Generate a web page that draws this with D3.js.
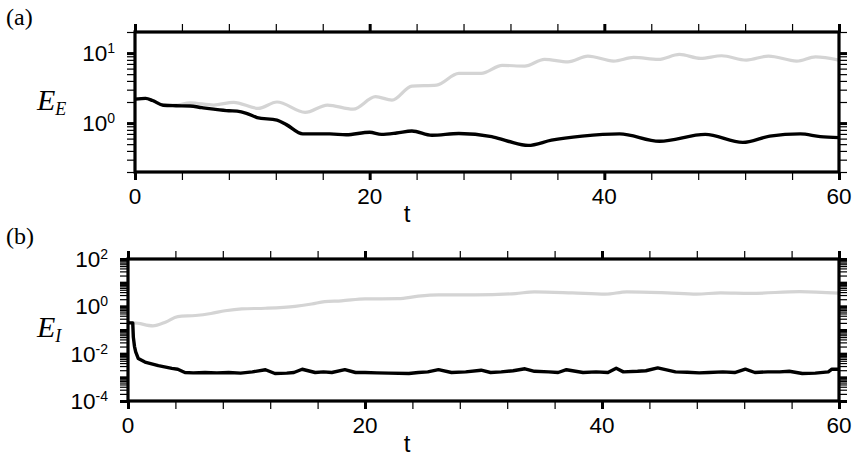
<!DOCTYPE html>
<html><head><meta charset="utf-8">
<script src="https://cdn.jsdelivr.net/npm/d3@7"></script>
<style>body{margin:0;background:#fff}</style>
</head><body>
<svg id="c" width="854" height="457"></svg>
<script>
// ---- Data ----
const xTickLabels = [0, 20, 40, 60];
const topYLabels = [1, 10];
const botYLabels = [1e-4, 1e-2, 1, 1e2];

// Panel (a): E_E
const tA_black = [0,0.9,1.5,2.4,3.5,4.7,5.7,6.7,8.0,8.7,9.5,10.4,12.1,12.9,14.3,15.5,16.6,18.0,20.0,21.0,22.3,23.6,25.3,27.6,30.4,31.8,33.5,35.5,38.1,41.3,44.7,48.6,51.8,54.1,56.7,58.4,60];
const eA_black = [2.2,2.25,2.1,1.8,1.77,1.75,1.66,1.58,1.5,1.48,1.38,1.2,1.1,0.95,0.70,0.70,0.70,0.68,0.74,0.69,0.72,0.77,0.67,0.71,0.64,0.55,0.48,0.57,0.65,0.70,0.55,0.69,0.53,0.65,0.70,0.64,0.62];
const tA_gray = [0,0.9,1.5,2.4,3.4,4.7,6.7,8.4,10.5,12.1,14.5,16.4,18.6,20.5,21.9,23.6,25.7,27.6,29.5,31.3,33.2,34.9,36.9,38.6,40.8,42.5,44.6,46.4,48.2,50.0,52.1,54.0,56.4,58.0,60];
const eA_gray = [2.2,2.25,2.1,1.82,1.8,1.95,1.81,1.98,1.62,2.0,1.42,1.81,1.58,2.38,2.13,3.38,3.49,5.13,5.13,6.67,6.5,8.13,7.5,9.06,7.69,8.68,8.13,9.57,8.4,9.15,7.94,9.06,7.69,8.85,7.94];

// Panel (b): E_I
const tB_gray = [0,0.5,2.1,3.2,4.2,5.7,7.0,8.2,9.6,11.6,14.1,15.5,16.6,18.0,20.0,22.8,24.5,26.2,29.3,32.7,34.3,37.5,40.3,42.1,45.5,48.0,50.0,52.5,56.7,60];
const eB_gray = [0.2,0.2,0.15,0.22,0.37,0.41,0.5,0.65,0.78,0.83,1.0,1.25,1.58,1.7,2.07,2.1,2.7,3.05,3.05,3.47,4.1,3.7,3.27,4.1,3.7,3.27,3.7,3.5,4.2,3.6];
const tB_black = [0,0.4,0.45,0.55,0.65,0.87,1.43,2.56,3.7,4.2,4.8,5.5,6.5,7.5,8.5,9.5,10.5,11.6,12.4,13.4,14.0,14.7,15.8,16.5,17.2,18.3,19.2,20.0,21.0,22.0,23.7,24.5,25.3,26.2,27.3,28.5,29.8,30.6,31.5,32.5,33.5,34.3,35.5,36.3,37.0,38.4,39.5,40.5,41.2,41.8,43.0,43.7,44.7,46.2,47.2,48.2,49.0,50.2,51.2,52.1,52.9,54.0,55.0,55.8,56.9,58.0,59.1,59.4,60];
const eB_black = [0.2,0.2,0.05,0.02,0.012,0.0062,0.0044,0.0031,0.0024,0.0022,0.0016,0.00155,0.0016,0.00155,0.0016,0.0015,0.0017,0.0021,0.00145,0.0015,0.0016,0.0022,0.0016,0.0017,0.0016,0.0021,0.0016,0.0016,0.00155,0.0015,0.00145,0.0016,0.0017,0.0021,0.0016,0.0017,0.002,0.0016,0.0017,0.0019,0.0023,0.0018,0.0017,0.0016,0.0021,0.0016,0.0017,0.0016,0.0024,0.0017,0.0018,0.0019,0.0025,0.0017,0.00165,0.00155,0.0016,0.0017,0.0016,0.0022,0.0016,0.0017,0.0017,0.0018,0.00145,0.0015,0.0017,0.0022,0.0022];

const svg = d3.select("#c");
const sans = "'Liberation Sans', Arial, Helvetica, sans-serif";
const serif = "'Liberation Serif', 'Times New Roman', serif";
const GRAY = "#d4d4d4";

function minorLog(lo, hi) {
  const out = [];
  for (let e = Math.floor(Math.log10(lo)); e <= Math.ceil(Math.log10(hi)); e++) {
    for (let m = 1; m <= 9; m++) {
      const v = m * Math.pow(10, e);
      if (v >= lo * 0.999 && v <= hi * 1.001) out.push(v);
    }
  }
  return out;
}

function panel(cfg) {
  const x = d3.scaleLinear().domain([0, 60]).range([cfg.left, cfg.right]);
  const y = d3.scaleLog().domain(cfg.ydom).range([cfg.bottom, cfg.top]);
  const g = svg.append("g");
  const clipId = "clip" + cfg.id;
  svg.append("clipPath").attr("id", clipId).append("rect")
    .attr("x", cfg.left).attr("y", cfg.top)
    .attr("width", cfg.right - cfg.left).attr("height", cfg.bottom - cfg.top);

  const xMinor = d3.range(0, 61, 4);
  const yMinor = minorLog(cfg.ydom[0], cfg.ydom[1]);
  const yMajor = yMinor.filter(v => Math.abs(Math.log10(v) - Math.round(Math.log10(v))) < 1e-9);

  function axisDraw(axis, transform, sw) {
    const a = g.append("g").attr("transform", transform).call(axis);
    a.select(".domain").remove();
    a.selectAll(".tick line").attr("stroke", "#000").attr("stroke-width", sw);
    a.selectAll(".tick text").remove();
  }
  const L = 8;
  axisDraw(d3.axisBottom(x).tickValues(xMinor).tickSize(L).tickFormat(""), `translate(0,${cfg.bottom})`, 1.2);
  axisDraw(d3.axisTop(x).tickValues(xMinor).tickSize(L).tickFormat(""), `translate(0,${cfg.top})`, 1.2);
  axisDraw(d3.axisBottom(x).tickValues(xTickLabels).tickSize(L).tickFormat(""), `translate(0,${cfg.bottom})`, 3);
  axisDraw(d3.axisTop(x).tickValues(xTickLabels).tickSize(L).tickFormat(""), `translate(0,${cfg.top})`, 3);
  axisDraw(d3.axisLeft(y).tickValues(yMinor).tickSize(L).tickFormat(""), `translate(${cfg.left},0)`, 1.2);
  axisDraw(d3.axisRight(y).tickValues(yMinor).tickSize(L).tickFormat(""), `translate(${cfg.right},0)`, 1.2);
  axisDraw(d3.axisLeft(y).tickValues(yMajor).tickSize(L).tickFormat(""), `translate(${cfg.left},0)`, 3);
  axisDraw(d3.axisRight(y).tickValues(yMajor).tickSize(L).tickFormat(""), `translate(${cfg.right},0)`, 3);

  // lines
  const mk = (ts, vs) => ts.map((t, i) => [t, vs[i]]);
  const line = d3.line().x(d => x(d[0])).y(d => y(d[1]));
  g.append("path").datum(mk(cfg.grayT, cfg.grayV))
    .attr("clip-path", `url(#${clipId})`)
    .attr("d", line.curve(cfg.curveGray)).attr("fill", "none")
    .attr("stroke", GRAY).attr("stroke-width", 3.2);
  g.append("path").datum(mk(cfg.blackT, cfg.blackV))
    .attr("clip-path", `url(#${clipId})`)
    .attr("d", line.curve(cfg.curveBlack)).attr("fill", "none")
    .attr("stroke", "#000").attr("stroke-width", 3.4).attr("stroke-linejoin", "round");

  // frame
  g.append("rect").attr("x", cfg.left).attr("y", cfg.top)
    .attr("width", cfg.right - cfg.left).attr("height", cfg.bottom - cfg.top)
    .attr("fill", "none").attr("stroke", "#000").attr("stroke-width", 3.2);

  // x labels
  g.selectAll(".xl").data(xTickLabels).enter().append("text")
    .attr("x", d => x(d)).attr("y", cfg.bottom + 32)
    .attr("text-anchor", "middle").attr("font-family", sans).attr("font-size", 22.5)
    .text(d => d);
  // y labels
  cfg.ylabels.forEach(v => {
    const e = Math.round(Math.log10(v));
    const tx = g.append("text").attr("x", cfg.left - 20).attr("y", y(v) + 8)
      .attr("text-anchor", "end").attr("font-family", sans).attr("font-size", 22.5);
    tx.append("tspan").text("10");
    tx.append("tspan").attr("font-size", 14).attr("dy", -8).text(String(e));
  });
  // axis title t
  g.append("text").attr("x", 407).attr("y", cfg.tY)
    .attr("text-anchor", "middle").attr("font-family", sans).attr("font-size", 24).text("t");
  // y title
  const yt = g.append("text").attr("x", 37).attr("y", cfg.ytitleY)
    .attr("font-family", serif).attr("font-style", "italic").attr("font-size", 30);
  yt.append("tspan").text("E");
  yt.append("tspan").attr("font-size", 18).attr("dy", 5).text(cfg.sub);
  // panel letter
  g.append("text").attr("x", 6).attr("y", cfg.letterY)
    .attr("font-family", serif).attr("font-size", 24).text(cfg.letter);
}

panel({id: "a", left: 135, right: 839, top: 32, bottom: 172, ydom: [0.2, 20],
  ylabels: topYLabels, grayT: tA_gray, grayV: eA_gray, blackT: tA_black, blackV: eA_black,
  curveGray: d3.curveMonotoneX, curveBlack: d3.curveMonotoneX,
  sub: "E", ytitleY: 110, letter: "(a)", letterY: 25, tY: 222});
panel({id: "b", left: 128, right: 839, top: 259, bottom: 401, ydom: [1e-4, 1e2],
  ylabels: botYLabels, grayT: tB_gray, grayV: eB_gray, blackT: tB_black, blackV: eB_black,
  curveGray: d3.curveMonotoneX, curveBlack: d3.curveLinear,
  sub: "I", ytitleY: 337, letter: "(b)", letterY: 244, tY: 452});
</script>
</body></html>
